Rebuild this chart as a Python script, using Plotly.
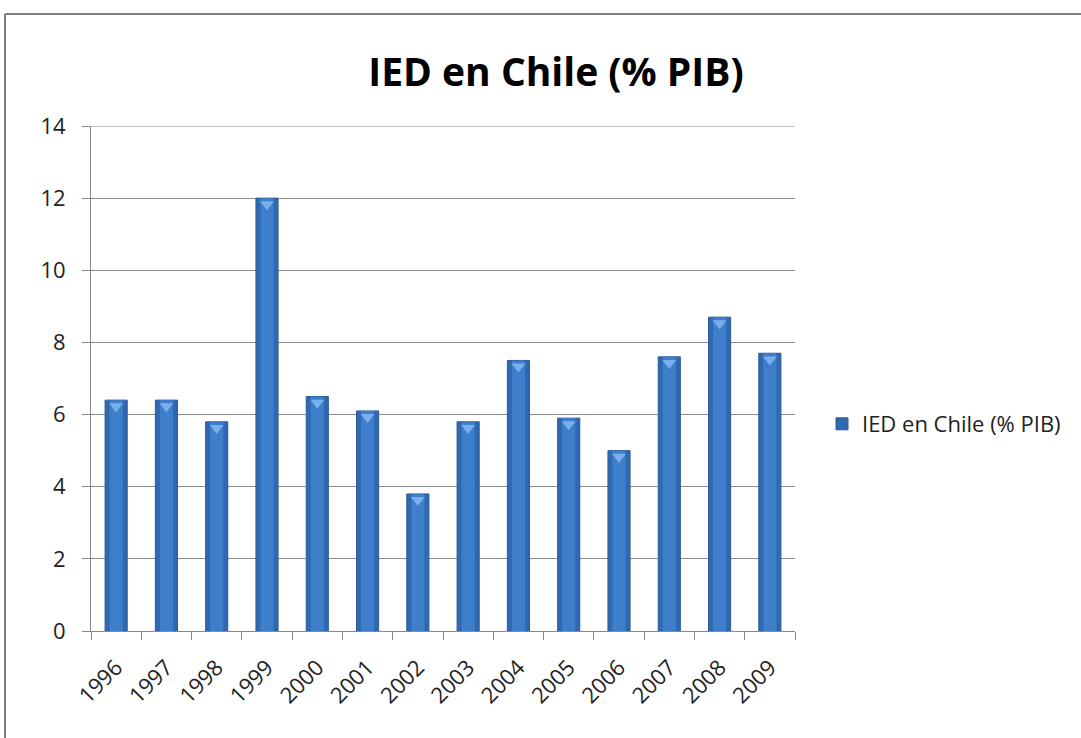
import plotly.graph_objects as go

years = ["1996", "1997", "1998", "1999", "2000", "2001", "2002",
         "2003", "2004", "2005", "2006", "2007", "2008", "2009"]
ied = [6.4, 6.4, 5.8, 12.0, 6.5, 6.1, 3.8, 5.8, 7.5, 5.9, 5.0, 7.6, 8.7, 7.7]
series_name = "IED en Chile (% PIB)"
title_text = "IED en Chile (% PIB)"

FONT = "Open Sans"

fig = go.Figure()
# main bar (darker edge)
fig.add_trace(go.Bar(
    x=years, y=ied, name=series_name,
    width=0.44,
    marker=dict(color="#3169b0", line=dict(color="#2a5a98", width=1)),
    showlegend=True,
))
# lighter centre to suggest the shaded cylinder look
fig.add_trace(go.Bar(
    x=years, y=ied, width=0.26, showlegend=False, hoverinfo="skip",
    marker=dict(color="#3e7ecb", line=dict(width=0)),
))
# light bevel at bar tops (drawn on an overlay axis shifted slightly down)
fig.add_trace(go.Scatter(
    x=years, y=ied, mode="markers", showlegend=False, hoverinfo="skip",
    yaxis="y2",
    marker=dict(symbol="triangle-down", size=12, color="#79b0ec",
                line=dict(width=0)),
    cliponaxis=False,
))

W, H = 1081, 738
L, R, T, B = 91, 286, 126, 107
pw, ph = W - L - R, H - T - B

def px_x(p):
    return (p - L) / pw

def px_y(p):
    return 1 - (p - T) / ph

fig.update_layout(
    width=W, height=H,
    margin=dict(l=L, r=R, t=T, b=B),
    paper_bgcolor="white", plot_bgcolor="white",
    barmode="overlay",
    title=dict(text=f"<b>{title_text}</b>", x=556 / W, xanchor="center",
               y=1 - 72 / H, yanchor="middle",
               font=dict(family=FONT, size=39, color="black")),
    font=dict(family=FONT, color="#222"),
    legend=dict(x=px_x(822), xanchor="left", y=px_y(424), yanchor="middle",
                font=dict(size=22, color="#222"), bgcolor="rgba(0,0,0,0)",
                itemwidth=30),
    xaxis=dict(type="category", range=[-0.5, len(years) - 0.5],
               tickangle=-45, tickson="boundaries",
               ticks="outside", ticklen=8, tickcolor="#888",
               showline=True, linecolor="#888", linewidth=1,
               ticklabelstandoff=14,
               tickfont=dict(size=22, color="#222"), showgrid=False),
    yaxis=dict(range=[0, 14], tickvals=[0, 2, 4, 6, 8, 10, 12, 14],
               ticks="outside", ticklen=8,
               tickcolor="#888", showline=True, linecolor="#888",
               gridcolor="#8c8c8c", gridwidth=1, zeroline=False,
               ticklabelstandoff=12,
               tickfont=dict(size=22, color="#222")),
    yaxis2=dict(overlaying="y", range=[0.17, 14.17], visible=False),
    shapes=[
        dict(type="line", xref="paper", yref="y", x0=0, x1=1, y0=14, y1=14,
             line=dict(color="#8c8c8c", width=1)),
        dict(type="line", xref="paper", yref="paper",
             x0=px_x(5), x1=px_x(1090), y0=px_y(14), y1=px_y(14),
             line=dict(color="#7f7f7f", width=2)),
        dict(type="line", xref="paper", yref="paper",
             x0=px_x(5), x1=px_x(5), y0=px_y(14), y1=px_y(745),
             line=dict(color="#7f7f7f", width=2)),
    ],
)

fig.write_html("out.html", config={"displayModeBar": False},
               post_script="document.body.style.margin='0';")
